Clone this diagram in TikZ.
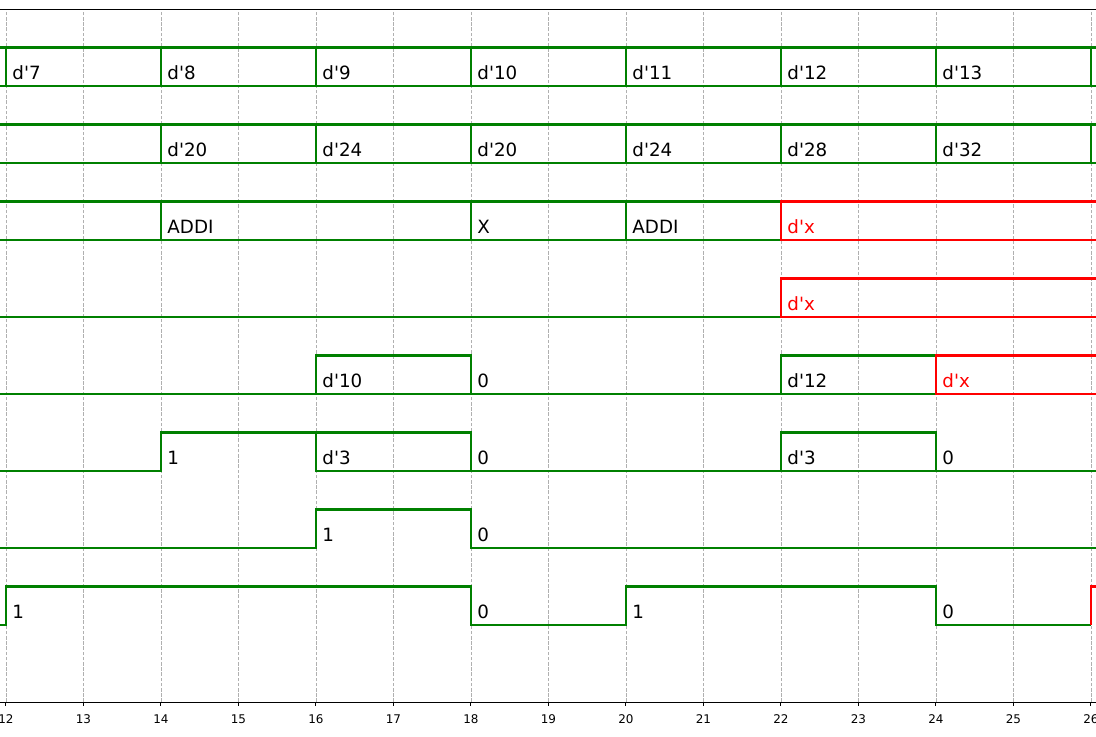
\documentclass[tikz,border=0pt]{standalone}
\usepackage{fontspec}
\setmainfont{DejaVu Sans}[Ligatures=TeXOff]
\definecolor{sgreen}{RGB}{0,128,0}
\definecolor{sred}{RGB}{255,0,0}
\definecolor{sgrid}{RGB}{176,176,176}
\tikzset{
  sig/.style={draw=sgreen, line width=1.45pt},
  bad/.style={draw=sred, line width=1.45pt},
  val/.style={anchor=base west, inner sep=0pt, font=\fontsize{13}{15}\selectfont},
  badval/.style={val, text=sred},
  gridline/.style={draw=sgrid, line width=0.6pt, dash pattern=on 2.5pt off 1.2pt},
  ticklab/.style={inner sep=0pt, font=\fontsize{8.5}{10}\selectfont}
}

\begin{document}
\begin{tikzpicture}[x=1.9375cm, y=1.925cm]
\clip (11.923,-0.442) rectangle (26.065,9.117);
% grid and frame
\foreach \x in {12,...,26} \draw[gridline] (\x,0) -- (\x,9);
\draw[line width=0.7pt] (11.8,9) -- (26.2,9);
\draw[line width=0.7pt] (11.8,0) -- (26.2,0);
\foreach \x in {12,...,26}
{
    \draw[line width=0.7pt] (\x,0) -- (\x,-0.05);
    \node[ticklab] (tick\x) at (\x,-0.22) {\x};
}

% row 8
\draw[sig] (11.8,8) -- (26.2,8) (11.8,8.5) -- (26.2,8.5);
\foreach \x in {12,14,...,26} \draw[sig] (\x,8) -- (\x,8.5);
\foreach \x/\v in {12/d'7,14/d'8,16/d'9,18/d'10,20/d'11,22/d'12,24/d'13}
    \node[val] (r8-\x) at (\x+0.08,8.09) {\v};

% row 7
\draw[sig] (11.8,7) -- (26.2,7) (11.8,7.5) -- (26.2,7.5);
\foreach \x in {14,16,...,26} \draw[sig] (\x,7) -- (\x,7.5);
\foreach \x/\v in {14/d'20,16/d'24,18/d'20,20/d'24,22/d'28,24/d'32}
    \node[val] (r7-\x) at (\x+0.08,7.09) {\v};

% row 6
\draw[sig] (11.8,6) -- (22,6) (11.8,6.5) -- (22,6.5);
\foreach \x in {14,18,20} \draw[sig] (\x,6) -- (\x,6.5);
\draw[bad] (26.2,6) -- (22,6) -- (22,6.5) -- (26.2,6.5);
\foreach \x/\v in {14/ADDI,18/X,20/ADDI}
    \node[val] (r6-\x) at (\x+0.08,6.09) {\v};
\node[badval] (r6-22) at (22.08,6.09) {d'x};

% row 5
\draw[sig] (11.8,5) -- (22,5);
\draw[bad] (26.2,5) -- (22,5) -- (22,5.5) -- (26.2,5.5);
\node[badval] (r5-22) at (22.08,5.09) {d'x};

% row 4
\draw[sig] (11.8,4) -- (24,4);
\draw[sig] (16,4) -- (16,4.5) -- (18,4.5) -- (18,4);
\draw[sig] (22,4) -- (22,4.5) -- (24,4.5);
\draw[bad] (26.2,4) -- (24,4) -- (24,4.5) -- (26.2,4.5);
\foreach \x/\v in {16/d'10,18/0,22/d'12}
    \node[val] (r4-\x) at (\x+0.08,4.09) {\v};
\node[badval] (r4-24) at (24.08,4.09) {d'x};

% row 3
\draw[sig] (11.8,3) -- (14,3) -- (14,3.5) -- (18,3.5) -- (18,3) -- (26.2,3);
\draw[sig] (16,3.5) -- (16,3) -- (18,3);
\draw[sig] (22,3) -- (22,3.5) -- (24,3.5) -- (24,3);
\foreach \x/\v in {14/1,16/d'3,18/0,22/d'3,24/0}
    \node[val] (r3-\x) at (\x+0.08,3.09) {\v};

% row 2
\draw[sig] (11.8,2) -- (16,2) -- (16,2.5) -- (18,2.5) -- (18,2) -- (26.2,2);
\foreach \x/\v in {16/1,18/0}
    \node[val] (r2-\x) at (\x+0.08,2.09) {\v};

% row 1
\draw[sig] (11.8,1) -- (12,1) -- (12,1.5) -- (18,1.5) -- (18,1) -- (20,1)
    -- (20,1.5) -- (24,1.5) -- (24,1) -- (26,1);
\draw[bad] (26,1) -- (26,1.5) -- (26.2,1.5);
\foreach \x/\v in {12/1,18/0,20/1,24/0}
    \node[val] (r1-\x) at (\x+0.08,1.09) {\v};
\end{tikzpicture}
\end{document}
